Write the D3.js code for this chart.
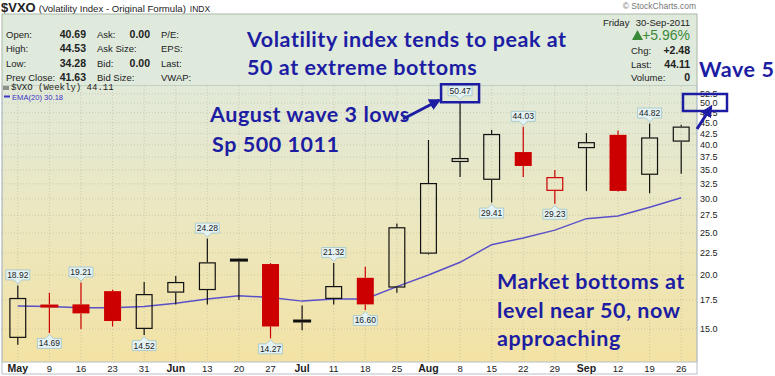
<!DOCTYPE html>
<html>
<head>
<meta charset="utf-8">
<script src="https://cdn.jsdelivr.net/npm/d3@7"></script>
<style>
  body { margin: 0; background: #fff; }
  svg { display: block; font-family: Arial, "Liberation Sans", sans-serif; }
</style>
</head>
<body>
<svg id="chart" width="775" height="376"></svg>
<script>
// weekly VXO, May - Sep 2011
const week_labels = ["May","9","16","23","31","Jun","13","20","27","Jul","11","18","25","Aug","8","15","22","29","Sep","12","19","26"];
const month_labels = ["May","Jun","Jul","Aug","Sep"];
const opens  = [14.3, 17.0, 17.1, 18.35, 15.0, 18.2, 18.45, 21.6, 21.2, 15.6, 17.6, 19.7, 18.7, 22.4, 36.5, 33.2, 38.5, 31.3, 39.3, 42.2, 34.1, 40.69];
const highs  = [18.92, 18.2, 19.21, 18.5, 19.27, 19.9, 24.28, 21.8, 21.3, 17.0, 21.32, 20.9, 26.3, 41.05, 50.47, 43.3, 44.03, 35.0, 42.6, 43.2, 44.82, 44.53];
const lows   = [13.8, 14.69, 15.0, 15.2, 14.52, 17.1, 17.1, 17.5, 14.27, 14.9, 17.1, 16.60, 18.2, 22.3, 33.7, 29.41, 33.7, 29.23, 31.3, 31.2, 30.9, 34.28];
const closes = [17.7, 16.9, 16.3, 15.65, 18.07, 19.27, 21.4, 21.7, 15.2, 15.7, 18.86, 17.1, 25.8, 32.65, 37.3, 42.4, 35.75, 33.7, 40.6, 31.3, 41.63, 44.11];
const ema20  = [16.95, 16.9, 16.8, 16.8, 16.9, 17.2, 17.6, 17.9, 17.75, 17.4, 17.6, 17.6, 18.8, 20.0, 21.4, 23.5, 24.35, 25.4, 27.0, 27.4, 28.7, 30.18];
const high_tags = [0, 2, 6, 10, 14, 16, 20];
const low_tags = [1, 4, 8, 11, 15, 17];
const y_ticks = [15, 17.5, 20, 22.5, 25, 27.5, 30, 32.5, 35, 37.5, 40, 42.5, 45, 47.5, 50, 52.5];
const y_min = 12.58, y_max = 54.74;

const stats_left = [
  ["Open:", "40.69", "Ask:", "0.00", "P/E:"],
  ["High:", "44.53", "Ask Size:", "", "EPS:"],
  ["Low:", "34.28", "Bid:", "0.00", "Last:"],
  ["Prev Close:", "41.63", "Bid Size:", "", "VWAP:"]
];
const stats_right = [["Chg:", "+2.48"], ["Last:", "44.11"], ["Volume:", "0"]];

const svg = d3.select("#chart");
const plot = {left: 2, right: 697, top: 86, bottom: 362};
const note_blue = "#1d1da3";

const scale_x = d3.scaleBand().domain(d3.range(week_labels.length)).range([plot.left, plot.right]);
const cx = i => scale_x(i) + scale_x.bandwidth() / 2;
const scale_y = d3.scaleLog().domain([y_min, y_max]).range([plot.bottom, plot.top]);

// gradient + arrow marker
const defs = svg.append("defs");
const grad = defs.append("linearGradient").attr("id", "bg").attr("x1", 0).attr("y1", 0).attr("x2", 0).attr("y2", 1);
grad.append("stop").attr("offset", "0%").attr("stop-color", "#e1e9d8");
grad.append("stop").attr("offset", "50%").attr("stop-color", "#ece7bf");
grad.append("stop").attr("offset", "100%").attr("stop-color", "#f3e2a4");
defs.append("marker").attr("id", "arrow")
  .attr("viewBox", "0 0 10 10").attr("refX", 8).attr("refY", 5)
  .attr("markerWidth", 4).attr("markerHeight", 4).attr("orient", "auto")
  .append("path").attr("d", "M0,0L10,5L0,10Z").attr("fill", note_blue);
defs.append("clipPath").attr("id", "plotclip").append("rect")
  .attr("x", plot.left).attr("y", plot.top).attr("width", plot.right - plot.left).attr("height", plot.bottom - plot.top);

// title line
const title = svg.append("text").attr("x", 1).attr("y", 12).attr("fill", "#222");
title.append("tspan").attr("font-weight", "bold").attr("font-size", 13).text("$VXO");
title.append("tspan").attr("font-size", 9.6).attr("dx", 3).text("(Volatility Index - Original Formula)");
title.append("tspan").attr("font-size", 8.5).attr("dx", 4).text("INDX");
svg.append("text").attr("x", 696).attr("y", 9).attr("text-anchor", "end")
  .attr("font-size", 8.5).attr("fill", "#777").text("© StockCharts.com");

// header panel
svg.append("rect").attr("x", plot.left).attr("y", 14).attr("width", plot.right - plot.left).attr("height", plot.top - 14)
  .attr("fill", "#dfe9dc").attr("stroke", "#a7b7a7");

const left_rows = svg.append("g").attr("font-size", 9.5).attr("fill", "#222");
stats_left.forEach((row, r) => {
  const y = 38 + r * 14.4;
  left_rows.append("text").attr("x", 6).attr("y", y).text(row[0]);
  left_rows.append("text").attr("x", 86).attr("y", y).attr("text-anchor", "end").attr("font-weight", "bold").attr("font-size", 10.5).text(row[1]);
  left_rows.append("text").attr("x", 97).attr("y", y).text(row[2]);
  left_rows.append("text").attr("x", 150).attr("y", y).attr("text-anchor", "end").attr("font-weight", "bold").attr("font-size", 10.5).text(row[3]);
  left_rows.append("text").attr("x", 161).attr("y", y).text(row[4]);
});

const right_rows = svg.append("g").attr("font-size", 9.5).attr("fill", "#222");
right_rows.append("text").attr("x", 603).attr("y", 26).text("Friday");
right_rows.append("text").attr("x", 690).attr("y", 26).attr("text-anchor", "end").text("30-Sep-2011");
right_rows.append("path").attr("d", "M632,40L637.5,30L643,40Z").attr("fill", "#3a8a3a");
right_rows.append("text").attr("x", 690).attr("y", 40).attr("text-anchor", "end")
  .attr("font-size", 14).attr("fill", "#3a8a3a").text("+5.96%");
stats_right.forEach((row, r) => {
  const y = 54 + r * 13.7;
  right_rows.append("text").attr("x", 631).attr("y", y).text(row[0]);
  right_rows.append("text").attr("x", 690).attr("y", y).attr("text-anchor", "end").attr("font-weight", "bold").attr("font-size", 10.5).text(row[1]);
});

// plot background + grid
svg.append("rect").attr("x", plot.left).attr("y", plot.top).attr("width", plot.right - plot.left).attr("height", plot.bottom - plot.top)
  .attr("fill", "url(#bg)");
const grid = svg.append("g").attr("stroke", "#a8a890").attr("stroke-opacity", 0.45).attr("stroke-dasharray", "1,2");
grid.selectAll("line.v").data(d3.range(week_labels.length)).join("line").attr("class", "v")
  .attr("x1", cx).attr("x2", cx).attr("y1", plot.top).attr("y2", plot.bottom);
grid.selectAll("line.h").data(y_ticks).join("line").attr("class", "h")
  .attr("x1", plot.left).attr("x2", plot.right).attr("y1", d => scale_y(d)).attr("y2", d => scale_y(d));
svg.append("line").attr("x1", plot.left).attr("x2", plot.left).attr("y1", plot.top).attr("y2", plot.bottom).attr("stroke", "#9aaabb");
svg.append("line").attr("x1", plot.right).attr("x2", plot.right).attr("y1", plot.top).attr("y2", plot.bottom).attr("stroke", "#9aaabb");

// legend
svg.append("path").attr("d", "M3,86h6v4h-6z").attr("fill", "#555").attr("opacity", 0.6);
svg.append("text").attr("x", 11).attr("y", 90).attr("font-family", "'Liberation Mono', 'DejaVu Sans Mono', monospace")
  .attr("font-size", 9).attr("fill", "#222").text("$VXO (Weekly) 44.11");
svg.append("line").attr("x1", 4).attr("x2", 10).attr("y1", 96.5).attr("y2", 96.5).attr("stroke", "#3a34c4").attr("stroke-width", 2);
svg.append("text").attr("x", 12).attr("y", 99.5).attr("font-size", 7.6).attr("fill", "#3a34c4").text("EMA(20) 30.18");

// EMA line
svg.append("path").datum(ema20).attr("clip-path", "url(#plotclip)")
  .attr("fill", "none").attr("stroke", "#5a50c8").attr("stroke-width", 1.5)
  .attr("d", d3.line().x((d, i) => cx(i)).y(d => scale_y(d)));

// candles
const candles = week_labels.map((w, i) => ({
  i, open: opens[i], high: highs[i], low: lows[i], close: closes[i],
  up: i === 0 ? true : closes[i] >= closes[i - 1]
}));
const body_w = 17;
const candle_g = svg.append("g").selectAll("g").data(candles).join("g");
candle_g.each(function(d) {
  const g = d3.select(this);
  const color = d.up ? "#111" : "#cc0000";
  const x = cx(d.i);
  let top = scale_y(Math.max(d.open, d.close));
  let bot = scale_y(Math.min(d.open, d.close));
  const doji = bot - top < 3;
  if (doji) { const m = (top + bot) / 2; top = m - 1.5; bot = m + 1.5; }
  g.append("line").attr("x1", x).attr("x2", x).attr("y1", scale_y(d.high)).attr("y2", top)
    .attr("stroke", color).attr("stroke-width", 1.2);
  g.append("line").attr("x1", x).attr("x2", x).attr("y1", bot).attr("y2", scale_y(d.low))
    .attr("stroke", color).attr("stroke-width", 1.2);
  if (doji) {
    g.append("rect").attr("x", x - body_w / 2 - 0.5).attr("y", top).attr("width", body_w + 1).attr("height", bot - top).attr("fill", color);
  } else if (d.close < d.open) {
    g.append("rect").attr("x", x - body_w / 2).attr("y", top).attr("width", body_w).attr("height", bot - top).attr("fill", color);
  } else {
    g.append("rect").attr("x", x - body_w / 2 + 0.6).attr("y", top + 0.6).attr("width", body_w - 1.2).attr("height", bot - top - 1.2)
      .attr("fill", "none").attr("stroke", color).attr("stroke-width", 1.2);
  }
});

// value tags
function draw_tag(i, value, above) {
  const x = cx(i);
  const y = scale_y(value) + (above ? -1.5 : 1.5);
  const s = above ? -1 : 1;
  const w = 24, h = 10, p = 4;
  const path = `M${x},${y}L${x + 4},${y + s * p}H${x + w / 2}V${y + s * (p + h)}H${x - w / 2}V${y + s * p}H${x - 4}Z`;
  svg.append("path").attr("d", path).attr("fill", "#e4f2f4").attr("stroke", "#9ec4ca").attr("stroke-width", 0.8);
  svg.append("text").attr("x", x).attr("y", y + s * (p + h / 2) + 3).attr("text-anchor", "middle")
    .attr("font-size", 8.5).attr("fill", "#222").text(d3.format(".2f")(value));
}
high_tags.forEach(i => draw_tag(i, highs[i], true));
low_tags.forEach(i => draw_tag(i, lows[i], false));

// y axis labels
svg.append("g").selectAll("text").data(y_ticks).join("text")
  .attr("x", 700).attr("y", d => scale_y(d) + 3)
  .attr("font-size", 9).attr("fill", "#222").text(d3.format(".1f"));

// x axis band
svg.append("rect").attr("x", plot.left).attr("y", plot.bottom).attr("width", plot.right - plot.left).attr("height", 12)
  .attr("fill", "#fff").attr("stroke", "#b8c0c8");
svg.append("g").selectAll("text").data(week_labels).join("text")
  .attr("x", (d, i) => cx(i)).attr("y", 372).attr("text-anchor", "middle")
  .attr("font-size", d => month_labels.includes(d) ? 10.5 : 9.5)
  .attr("font-weight", d => month_labels.includes(d) ? "bold" : "normal")
  .attr("fill", "#222").text(d => d);

// annotations
const notes = svg.append("g").attr("font-family", "Lato, 'Open Sans', sans-serif").attr("font-weight", "bold")
  .attr("font-size", 21.5).attr("letter-spacing", 0.55).attr("fill", note_blue);
notes.append("text").attr("x", 247).attr("y", 47).text("Volatility index tends to peak at");
notes.append("text").attr("x", 247).attr("y", 75).text("50 at extreme bottoms");
notes.append("text").attr("x", 210).attr("y", 122).text("August wave 3 lows");
notes.append("text").attr("x", 212).attr("y", 152).text("Sp 500 1011");
notes.append("text").attr("x", 699).attr("y", 77).text("Wave 5");
notes.append("text").attr("x", 497).attr("y", 289).text("Market bottoms at");
notes.append("text").attr("x", 497).attr("y", 318).text("level near 50, now");
notes.append("text").attr("x", 497).attr("y", 346).text("approaching");

const peak_x = cx(14), peak_y = scale_y(highs[14]);
svg.append("rect").attr("x", peak_x - 19).attr("y", peak_y - 17).attr("width", 38).attr("height", 18)
  .attr("fill", "none").attr("stroke", note_blue).attr("stroke-width", 2.5);
svg.append("line").attr("x1", 403).attr("y1", 119).attr("x2", peak_x - 21).attr("y2", peak_y - 1)
  .attr("stroke", note_blue).attr("stroke-width", 3).attr("marker-end", "url(#arrow)");
const fifty_y = scale_y(50);
svg.append("rect").attr("x", 683).attr("y", fifty_y - 9).attr("width", 44).attr("height", 17)
  .attr("fill", "none").attr("stroke", note_blue).attr("stroke-width", 2.5);
svg.append("line").attr("x1", 697).attr("y1", 129).attr("x2", 711).attr("y2", fifty_y + 4)
  .attr("stroke", note_blue).attr("stroke-width", 3).attr("marker-end", "url(#arrow)");
</script>
</body>
</html>
